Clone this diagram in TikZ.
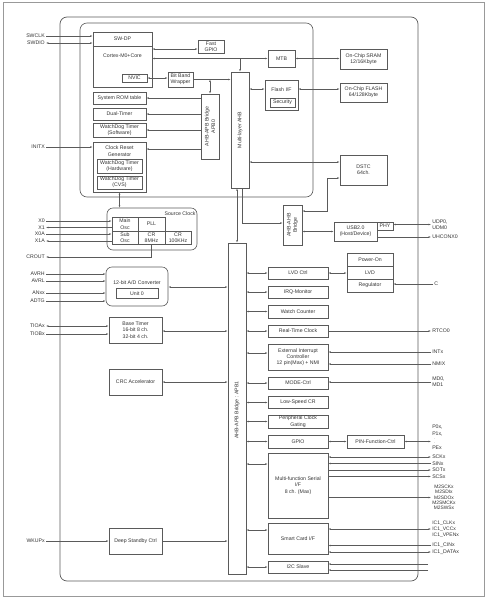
\documentclass[tikz,border=0pt]{standalone}
\usepackage{fontspec}
\setmainfont{Liberation Sans}
\usetikzlibrary{arrows.meta,positioning}
\definecolor{boxc}{HTML}{5A5A5A}
\definecolor{txtc}{HTML}{333333}
\tikzset{
  blk/.style 2 args={draw=boxc, line width=0.6pt, inner sep=0pt, align=center,
    minimum width=#1pt, minimum height=#2pt},
  rblk/.style 2 args={blk={#1}{#2}, rounded corners=6pt},
  pinl/.style={anchor=east, inner sep=1pt},
  pinr/.style={anchor=west, inner sep=1pt, align=left},
  ar/.style={-{Latex[length=2.4pt,width=1.8pt]}},
  dar/.style={{Latex[length=2.4pt,width=1.8pt]}-{Latex[length=2.4pt,width=1.8pt]}}
}
\begin{document}
\begin{tikzpicture}[x=1pt,y=-1pt,line width=0.5pt,draw=boxc]
  \tikzstyle{every node}=[text=txtc, font=\fontsize{5.2}{6.3}\selectfont]
  \useasboundingbox (0,0) rectangle (489,600);
  \draw[draw=gray!80, line width=0.7pt] (3,2) rectangle (484,596);
  \draw[line width=0.7pt, rounded corners=7pt] (60,17) rectangle (418,581);
  \draw[line width=0.6pt, rounded corners=7pt] (80,23) rectangle (313,197);

  % CPU core part
  \node[blk={59}{55}]   (cortex)   at (122.5,59.5) {};
  \node                 (swdp)     at (122.5,39)   {SW-DP};
  \node                 (m0)       at (122.5,56)   {Cortex-M0+Core};
  \draw (cortex.west |- 0,46) -- (cortex.east |- 0,46);
  \node[blk={25}{8}]    (nvic)     at (134.5,78)   {NVIC};
  \node[blk={26}{13}]   (fastgpio) at (211,46.5)   {Fast\\GPIO};
  \node[blk={25}{15}]   (bitband)  at (180.5,79.5) {Bit Band\\Wrapper};
  \node[blk={18}{65}]   (apb0)     at (210,126.5)  {};
  \node[rotate=90,align=center] (apb0t) at (apb0) {AHB-APB Bridge\\APB0};
  \node[blk={53}{12}]   (rom)      at (119.5,98)   {System ROM table};
  \node[blk={53}{12}]   (dual)     at (119.5,114)  {Dual-Timer};
  \node[blk={53}{14}]   (wdtsw)    at (119.5,130)  {WatchDog Timer\\(Software)};
  \node[blk={53}{50}]   (crg)      at (119.5,167)  {};
  \node[align=center]   (crgt)     at (119.5,151)  {Clock Reset\\Generator};
  \node[blk={45}{14}]   (wdthw)    at (119.5,166)  {WatchDog Timer\\(Hardware)};
  \node[blk={45}{13}]   (wdtcvs)   at (119.5,182.5){WatchDog Timer\\(CVS)};
  \node[blk={18}{116}]  (ahb)      at (240,130)    {};
  \node[rotate=90]      (ahbt)     at (ahb)        {Multi-layer AHB};
  \node[blk={27}{17}]   (mtb)      at (281.5,58.5) {MTB};
  \node[blk={33}{30}]   (flashif)  at (281.5,95)   {};
  \node                 (flashift) at (281.5,89.5) {Flash I/F};
  \node[blk={25}{9}]    (security) at (282.5,102.5){Security};

  % memories, DSTC, USB
  \node[blk={47}{20}]   (sram)     at (363.5,59)   {On-Chip SRAM\\12/16Kbyte};
  \node[blk={47}{19}]   (flash)    at (363.5,92.5) {On-Chip FLASH\\64/128Kbyte};
  \node[blk={47}{30}]   (dstc)     at (363.5,170)  {DSTC\\64ch.};
  \node[blk={19}{40}]   (ahbahb)   at (292.5,225)  {};
  \node[rotate=90,align=center] (ahbahbt) at (ahbahb) {AHB-AHB\\Bridge};
  \node[blk={43}{19}]   (usb)      at (355.5,231.5){USB2.0\\(Host/Device)};
  \node[blk={16}{8}]    (phy)      at (385,226)    {PHY};

  % clock, analog, timers
  \node[rblk={90}{42}]  (srcclk)   at (152,229)    {};
  \node                 (srcclkt)  at (180,213.5)  {Source Clock};
  \node[blk={26}{14}]   (mainosc)  at (125,224)    {Main\\Osc};
  \node[blk={27}{14}]   (pll)      at (151.5,224)  {PLL};
  \node[blk={26}{13}]   (subosc)   at (125,237.5)  {Sub\\Osc};
  \node[blk={27}{13}]   (cr8)      at (151.5,237.5){CR\\8MHz};
  \node[blk={26}{13}]   (cr100)    at (178,237.5)  {CR\\100KHz};
  \node[rblk={62}{39}]  (adc)      at (137,286.5)  {};
  \node                 (adct)     at (137,282.5)  {12-bit A/D Converter};
  \node[blk={42}{10}]   (unit0)    at (137,293.3)  {Unit 0};
  \node[blk={53}{26}]   (basetim)  at (135.5,330)  {Base Timer\\16-bit 8 ch.\\32-bit 4 ch.};
  \node[blk={53}{26}]   (crc)      at (135.5,382)  {CRC Accelerator};
  \node[blk={53}{26}]   (deep)     at (135.5,541)  {Deep Standby Ctrl};
  \node[blk={18}{331}]  (apb1)     at (237,408.5)  {};
  \node[rotate=90]      (apb1t)    at (237,410)    {AHB-APB Bridge : APB1};

  % peripherals on APB1
  \node[blk={60}{12}]   (lvdctrl)  at (298,273)    {LVD Ctrl};
  \node[blk={60}{12}]   (irq)      at (298,292)    {IRQ-Monitor};
  \node[blk={60}{13}]   (watch)    at (298,311.5)  {Watch Counter};
  \node[blk={60}{12}]   (rtc)      at (298,331)    {Real-Time Clock};
  \node[blk={60}{26}]   (eic)      at (298,357)    {External Interrupt\\Controller\\12 pin(Max) + NMI};
  \node[blk={60}{12}]   (mode)     at (298,383)    {MODE-Ctrl};
  \node[blk={60}{12}]   (lscr)     at (298,402.5)  {Low-Speed CR};
  \node[blk={60}{13}]   (pcg)      at (298,421.5)  {Peripheral Clock\\Gating};
  \node[blk={60}{13}]   (gpio)     at (298,441.5)  {GPIO};
  \node[blk={60}{65}]   (mfs)      at (298,485.5)  {Multi-function Serial\\I/F\\8 ch. (Max)};
  \node[blk={60}{31}]   (sc)       at (298,538.5)  {Smart Card I/F};
  \node[blk={60}{12}]   (i2c)      at (298,567)    {I2C Slave};
  \node[blk={46}{13}]   (pwron)    at (370,259.5)  {Power-On};
  \node[blk={46}{13}]   (lvd)      at (370,272.5)  {LVD};
  \node[blk={46}{13}]   (reg)      at (370,285.5)  {Regulator};
  \node[blk={57}{13}]   (pinctrl)  at (375.5,441.5){PIN-Function-Ctrl};

  % pins, left
  \node[pinl] (swclk) at (46,36)  {SWCLK};
  \node[pinl] (swdio) at (46,43)  {SWDIO};
  \node[pinl] (initx) at (46,147) {INITX};
  \node[pinl] (xo)    at (46,221) {X0};
  \node[pinl] (xi)    at (46,227.5) {X1};
  \node[pinl] (xoa)   at (46,234) {X0A};
  \node[pinl] (xia)   at (46,241) {X1A};
  \node[pinl] (crout) at (46,257) {CROUT};
  \node[pinl] (avrh)  at (46,274) {AVRH};
  \node[pinl] (avrl)  at (46,281) {AVRL};
  \node[pinl] (anxx)  at (46,293) {ANxx};
  \node[pinl] (adtg)  at (46,301) {ADTG};
  \node[pinl] (tioa)  at (46,326) {TIOAx};
  \node[pinl] (tiob)  at (46,334) {TIOBx};
  \node[pinl] (wkup)  at (46,541) {WKUPx};

  % pins, right
  \node[pinr] (udp)   at (431,224.5) {UDP0,\\UDM0};
  \node[pinr] (uhc)   at (431,237)   {UHCONX0};
  \node[pinr] (cpin)  at (433,284)   {C};
  \node[pinr] (rtco)  at (431,331)   {RTCO0};
  \node[pinr] (intx)  at (431,352)   {INTx};
  \node[pinr] (nmix)  at (431,364)   {NMIX};
  \node[pinr] (md)    at (431,382)   {MD0,\\MD1};
  \node[pinr, font=\fontsize{5.2}{7}\selectfont] (pio) at (431,437.5)
       {P0x,\\P1x,\\\hspace*{1.5pt}\raisebox{-0.5pt}{\smash{\fontsize{3.5}{4}\selectfont$\vdots$}}\\PEx};
  \node[pinr] (sck)   at (431,457)   {SCKx};
  \node[pinr] (sin)   at (431,463.5) {SINx};
  \node[pinr] (sot)   at (431,470)   {SOTx};
  \node[pinr] (scs)   at (431,476.5) {SCSx};
  \node[pinr, align=center, font=\fontsize{4.9}{5.3}\selectfont] (m2) at (431,497.5)
       {M2SCKx\\M2SDIx\\M2SDOx\\M2SMCKx\\M2SWSx};
  \node[pinr, font=\fontsize{5}{6}\selectfont] (ic1a) at (431,529) {IC1\_CLKx\\IC1\_VCCx\\IC1\_VPENx};
  \node[pinr] (ic1c)  at (431,545.5) {IC1\_CINx};
  \node[pinr] (ic1d)  at (431,552)   {IC1\_DATAx};
  \coordinate (i2cpa) at (428,564);
  \coordinate (i2cpb) at (428,570);

  % connectors in the core
  \draw[ar]  (swclk) -- (swclk -| cortex.west);
  \draw[dar] (swdio) -- (swdio -| cortex.west);
  \draw[ar]  (initx) -- (initx -| crg.west);
  \draw[dar] (cortex.east |- 0,49) -- (fastgpio.west |- 0,49);
  \draw[dar] (cortex.east |- mtb.west) -- (mtb.west);
  \draw[ar]  (ahb.north |- mtb.west) -- (ahb.north);
  \draw[dar] (nvic.east) -- (nvic.east -| bitband.west);
  \draw[ar]  (bitband.east) -- (bitband.east -| ahb.west);
  \draw[dar] (apb0.north |- bitband.east) -- (apb0.north);
  \draw[ar]  (apb0.west |- rom.east) -- (rom.east);
  \draw[ar]  (apb0.west |- dual.east) -- (dual.east);
  \draw[ar]  (apb0.west |- wdtsw.east) -- (wdtsw.east);
  \draw[ar]  (apb0.west |- 0,149) -- (crg.east |- 0,149);
  \draw[dar] (ahb.east |- 0,89) -- (flashif.west |- 0,89);
  \draw[dar] (mtb.east) -- (mtb.east -| sram.west);
  \draw[dar] (flashif.east |- 0,89) -- (flash.west |- 0,89);
  \draw[dar] (ahb.east |- 0,162) -- (dstc.west |- 0,162);
  \draw[dar] (dstc.west |- 0,178) -- ++(-12,0) |- (ahbahb.east |- 0,211);
  \draw[ar]  ([xshift=2pt]ahb.south) |- (ahbahb.west |- 0,223);
  \draw[dar] ([xshift=-3pt]ahb.south) -- ([xshift=-3pt]ahb.south |- apb1.north);
  \draw[dar] (ahbahb.east |- usb.west) -- (usb.west);
  \draw[dar] (phy.east |- udp) -- (udp);
  \draw[ar]  (usb.east |- uhc) -- (uhc);
  \draw[dar] (crg.south) -- (crg.south |- srcclk.north);

  % clock and analog pins
  \draw[ar]  (xo)  -- (xo -| mainosc.west);
  \draw[ar]  (xi -| mainosc.west) -- (xi);
  \draw[ar]  (xoa) -- (xoa -| subosc.west);
  \draw[ar]  (xia -| subosc.west) -- (xia);
  \draw[ar]  (cr8.south) |- (crout);
  \foreach \p in {avrh,avrl,anxx,adtg}
    \draw[ar] (\p) -- (\p -| adc.west);
  \draw[dar] (tioa) -- (tioa -| basetim.west);
  \draw[ar]  (tiob) -- (tiob -| basetim.west);
  \draw[ar]  (wkup) -- (deep);

  % APB1 bus
  \draw[dar] (adc.east |- 0,287) -- (apb1.west |- 0,287);
  \draw[dar] (basetim.east |- 0,331) -- (apb1.west |- 0,331);
  \draw[dar] (crc.east) -- (crc.east -| apb1.west);
  \draw[ar]  (deep.east) -- (deep.east -| apb1.west);
  \foreach \b in {lvdctrl,irq,watch,rtc,mode,lscr,pcg,gpio}
    \draw[dar] (apb1.east |- \b.west) -- (\b.west);
  \draw[dar] (apb1.east |- 0,353) -- (eic.west |- 0,353);
  \draw[dar] (apb1.east |- 0,464) -- (mfs.west |- 0,464);
  \draw[dar] (apb1.east |- 0,530) -- (sc.west |- 0,530);
  \draw[dar] (apb1.east |- i2c.west) -- (i2c.west);

  % peripheral pins
  \draw[dar] (lvdctrl.east) -- (lvdctrl.east -| lvd.west);
  \draw[ar]  (cpin) -- (cpin -| reg.east);
  \draw[ar]  (rtc) -- (rtco);
  \draw[ar]  (intx) -- (intx -| eic.east);
  \draw[ar]  (nmix) -- (nmix -| eic.east);
  \draw[ar]  (md) -- (md -| mode.east);
  \draw[dar] (gpio) -- (pinctrl);
  \draw[dar] (pinctrl) -- (pinctrl -| pio.west);
  \draw[dar] (sck) -- (sck -| mfs.east);
  \draw[ar]  (sin) -- (sin -| mfs.east);
  \draw[ar]  (sot -| mfs.east) -- (sot);
  \draw[ar]  (scs -| mfs.east) -- (scs);
  \draw[ar]  (m2 -| mfs.east) -- (m2.west);
  \draw[dar] (ic1a -| sc.east) -- (ic1a.west);
  \draw[ar]  (ic1c) -- (ic1c -| sc.east);
  \draw[dar] (ic1d) -- (ic1d -| sc.east);
  \draw[ar]  (i2cpa) -- (i2cpa -| i2c.east);
  \draw[ar]  (i2cpb) -- (i2cpb -| i2c.east);
\end{tikzpicture}
\end{document}
